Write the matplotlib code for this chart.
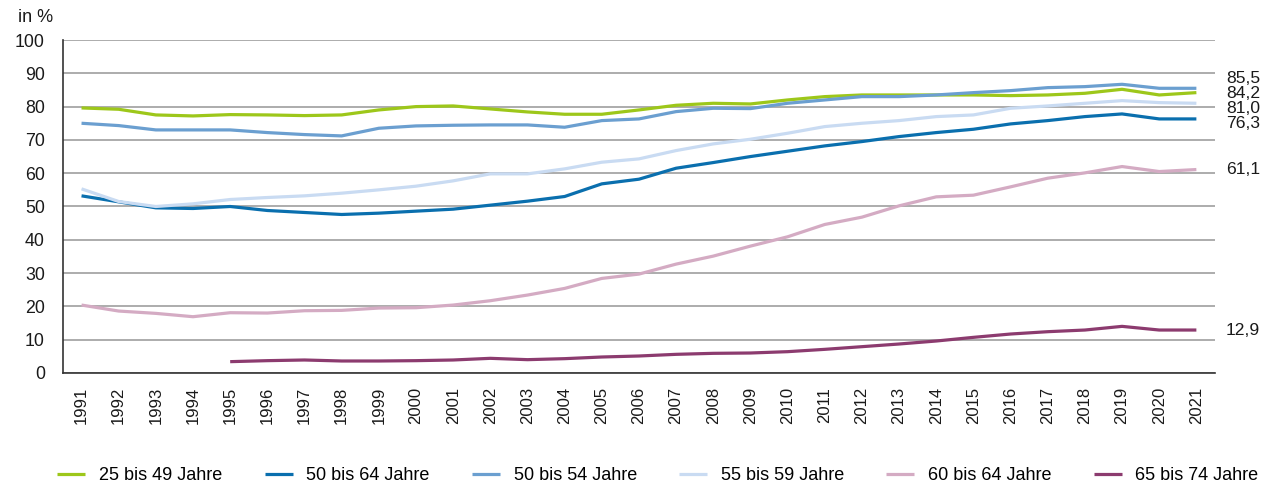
import matplotlib
matplotlib.use("Agg")
import matplotlib.pyplot as plt
import matplotlib.transforms as mtransforms
import numpy as np

plt.rcParams['font.family'] = ['Liberation Sans', 'DejaVu Sans']

# Erwerbstaetigenquoten nach Altersgruppen, in %
years = list(range(1991, 2022))
years_65 = list(range(1995, 2022))

q_25_49 = [79.6, 79.2, 77.5, 77.2, 77.6, 77.5, 77.3, 77.5, 79.0, 80.0,
           80.2, 79.3, 78.4, 77.7, 77.7, 79.0, 80.4, 81.0, 80.8, 82.0,
           83.0, 83.5, 83.5, 83.5, 83.5, 83.3, 83.5, 84.0, 85.2, 83.5, 84.2]
q_50_64 = [53.2, 51.4, 49.6, 49.4, 50.0, 48.8, 48.2, 47.6, 48.0, 48.6,
           49.2, 50.4, 51.6, 53.0, 56.8, 58.2, 61.5, 63.2, 65.0, 66.6,
           68.2, 69.5, 71.0, 72.2, 73.2, 74.8, 75.8, 77.0, 77.8, 76.3, 76.3]
q_50_54 = [75.0, 74.3, 73.0, 73.0, 73.0, 72.2, 71.6, 71.2, 73.5, 74.2,
           74.4, 74.5, 74.5, 73.8, 75.8, 76.3, 78.5, 79.5, 79.4, 81.0,
           82.0, 83.0, 83.0, 83.5, 84.2, 84.8, 85.7, 86.0, 86.7, 85.5, 85.5]
q_55_59 = [55.3, 51.5, 50.0, 50.8, 52.1, 52.7, 53.2, 54.0, 55.0, 56.1,
           57.7, 59.8, 59.8, 61.3, 63.3, 64.3, 66.8, 68.8, 70.2, 72.0,
           74.0, 75.0, 75.8, 77.0, 77.5, 79.5, 80.2, 81.0, 81.8, 81.2, 81.0]
q_60_64 = [20.4, 18.6, 17.9, 16.9, 18.1, 18.0, 18.7, 18.8, 19.5, 19.6,
           20.4, 21.7, 23.4, 25.4, 28.4, 29.7, 32.7, 35.1, 38.1, 40.9,
           44.6, 46.8, 50.2, 52.9, 53.4, 55.9, 58.5, 60.1, 62.0, 60.5, 61.1]
q_65_74 = [3.4, 3.7, 3.9, 3.6, 3.6, 3.7, 3.9, 4.4, 4.0, 4.3,
           4.8, 5.1, 5.6, 5.9, 6.0, 6.4, 7.1, 7.9, 8.7, 9.6,
           10.7, 11.7, 12.4, 12.9, 14.0, 12.9, 12.9]

series = [
    ("25 bis 49 Jahre", years, q_25_49, "#9dc71a"),
    ("50 bis 64 Jahre", years, q_50_64, "#0a6fae"),
    ("50 bis 54 Jahre", years, q_50_54, "#6b9fd0"),
    ("55 bis 59 Jahre", years, q_55_59, "#c9dbf2"),
    ("60 bis 64 Jahre", years, q_60_64, "#d4abc3"),
    ("65 bis 74 Jahre", years_65, q_65_74, "#8c3b6f"),
]
labelled = ["50 bis 54 Jahre", "25 bis 49 Jahre", "55 bis 59 Jahre",
            "50 bis 64 Jahre", "60 bis 64 Jahre", "65 bis 74 Jahre"]


def spread(values, gap):
    # push end labels apart so they do not overlap, clusters stay centred
    order = sorted(range(len(values)), key=lambda i: -values[i])
    groups = [[i] for i in order]
    changed = True
    pos = {}
    while changed:
        changed = False
        pos = {}
        for g in groups:
            c = np.mean([values[i] for i in g])
            top = c + gap * (len(g) - 1) / 2
            for k, i in enumerate(g):
                pos[i] = top - k * gap
        for a in range(len(groups) - 1):
            if pos[groups[a][-1]] - pos[groups[a + 1][0]] < gap:
                groups[a] = groups[a] + groups[a + 1]
                del groups[a + 1]
                changed = True
                break
    return [pos[i] for i in range(len(values))]


fig = plt.figure(figsize=(12.64, 4.88), dpi=100)
ax = fig.add_axes([0.0498, 0.2357, 0.9114, 0.6823])

for name, xs, ys, col in series:
    ax.plot(xs, ys, color=col, lw=2.3, label=name, solid_capstyle='butt')

ax.set_xlim(1990.5, 2021.5)
ax.set_ylim(0, 100)
ax.set_yticks(range(0, 101, 10))
ax.yaxis.grid(True, color="#a6a6a6", lw=1.3)
ax.set_axisbelow(True)
ax.set_xticks(years)
ax.set_xticklabels([str(y) for y in years], rotation=90, fontsize=12)
offset = mtransforms.ScaledTranslation(-0.09, 0, fig.dpi_scale_trans)
for lab in ax.get_xticklabels():
    lab.set_transform(lab.get_transform() + offset)
ax.tick_params(axis='both', length=0, colors="#1a1a1a")
ax.tick_params(axis='x', pad=10, labelsize=12)
ax.tick_params(axis='y', pad=13, labelsize=12.8)
for s in ["top", "right"]:
    ax.spines[s].set_visible(False)
for s in ["left", "bottom"]:
    ax.spines[s].set_color("#333333")
    ax.spines[s].set_linewidth(1.2)

last = {name: ys[-1] for name, xs, ys, col in series}
end_vals = [last[n] for n in labelled]
end_pos = spread(end_vals, 4.5)
for v, p in zip(end_vals, end_pos):
    ax.annotate(f"{v:.1f}".replace(".", ","), xy=(1.0, p),
                xycoords=('axes fraction', 'data'), xytext=(8, 0),
                textcoords='offset points', va='center', ha='left',
                fontsize=12.6, color="#1a1a1a")

fig.text(18 / 1264, 1 - 17 / 488, "in %", fontsize=13, va='center',
         ha='left', color="#1a1a1a")

fig.legend(loc='center', bbox_to_anchor=(658 / 1264, 1 - 476 / 488), ncol=6,
           frameon=False, fontsize=13, handlelength=1.55, handletextpad=0.75,
           columnspacing=2.35, borderpad=0, borderaxespad=0)

fig.savefig("out.png", dpi=100)
